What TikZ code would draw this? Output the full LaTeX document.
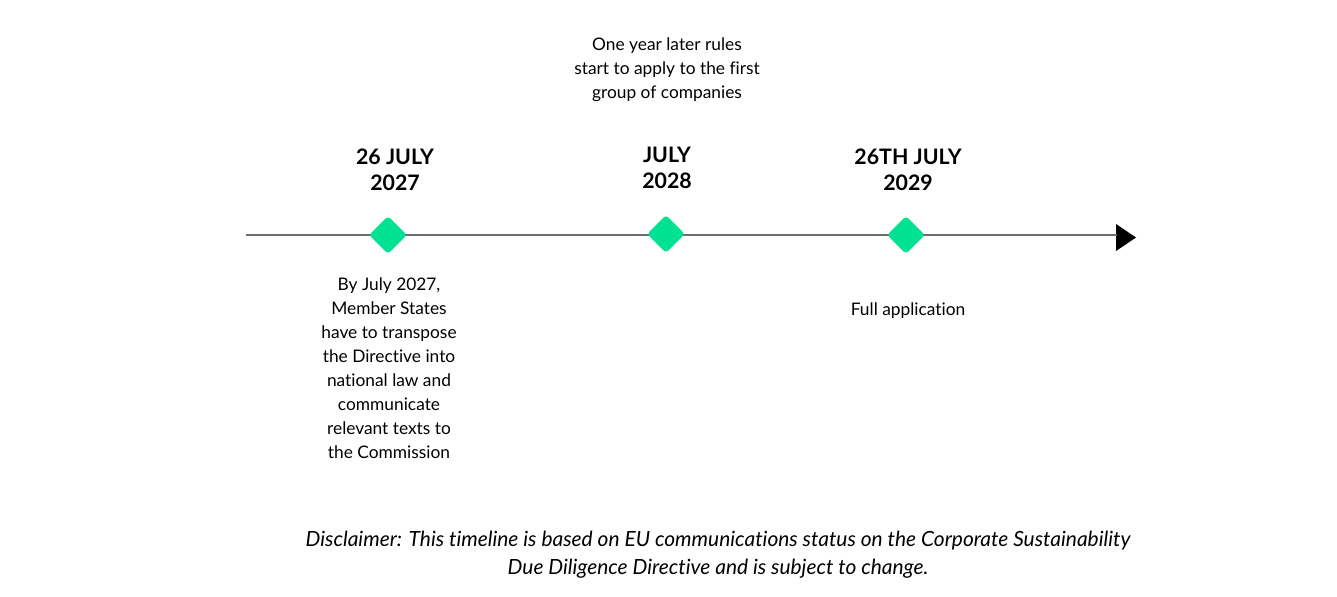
\documentclass[tikz,border=0pt]{standalone}
\usepackage{fontspec}
\setmainfont{Lato}[Ligatures=CommonOff]
\usetikzlibrary{shapes.geometric}
\definecolor{dgreen}{RGB}{0,226,145}
\definecolor{lgray}{RGB}{110,110,110}
\begin{document}
\begin{tikzpicture}[x=0.75pt,y=-0.75pt,
  milestone/.style={draw=none,fill=dgreen,minimum width=20pt,minimum height=20pt,rounded corners=2.5pt,rotate=45,inner sep=0pt},
  heading/.style={font=\fontsize{16}{19.5}\selectfont\bfseries,align=center,inner sep=0pt},
  body/.style={font=\fontsize{13}{18}\selectfont,align=center,inner sep=0pt},
  note/.style={font=\fontsize{15.7}{21}\selectfont\itshape,align=center,inner sep=0pt}]
\useasboundingbox (0,0) rectangle (1337,596);
\coordinate (start) at (246,235);
\coordinate (lend) at (1117,235);
\fill (1116,224) -- (1136,237.5) -- (1116,251) -- cycle;
\draw[lgray,line width=1.1pt] (start) -- (lend);
\node[milestone] (m1) at (388,235) {};
\node[milestone] (m2) at (666,234) {};
\node[milestone] (m3) at (906,235) {};
\node[heading] (h1) at (395,170) {26 JULY\\2027};
\node[heading] (h2) at (667,168) {JULY\\2028};
\node[heading] (h3) at (908,170) {26TH JULY\\2029};
\node[body] (t2) at (667,70) {One year later rules\\start to apply to the first\\group of companies};
\node[body] (t1) at (389,368) {By July 2027,\\Member States\\have to transpose\\the Directive into\\national law and\\communicate\\relevant texts to\\the Commission};
\node[body] (t3) at (908,311) {Full application};
\node[note] (d) at (718,555) {Disclaimer: This timeline is based on EU communications status on the Corporate Sustainability\\Due Diligence Directive and is subject to change.};
\end{tikzpicture}
\end{document}
